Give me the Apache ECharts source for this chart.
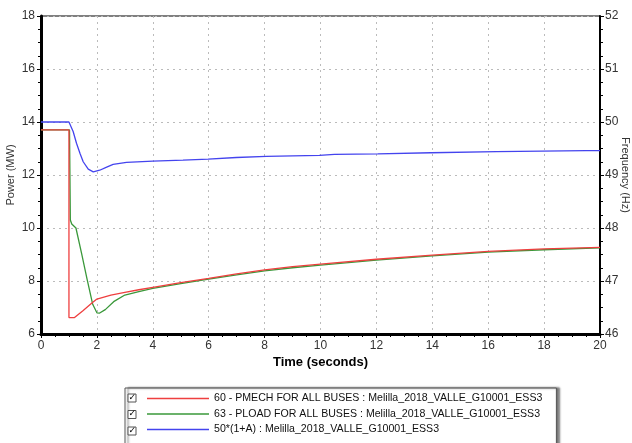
<!DOCTYPE html>
<html>
<head>
<meta charset="utf-8">
<script src="https://cdn.jsdelivr.net/npm/echarts@6/dist/echarts.min.js"></script>
<style>
html,body{margin:0;padding:0;background:#fff;}
#c{width:632px;height:443px;}
</style>
</head>
<body>
<div id="c"></div>
<script>
// Series names
const seriesNames = [
  '60 - PMECH FOR ALL BUSES : Melilla_2018_VALLE_G10001_ESS3',
  '63 - PLOAD FOR ALL BUSES : Melilla_2018_VALLE_G10001_ESS3',
  '50*(1+A) : Melilla_2018_VALLE_G10001_ESS3'
];
// PMECH (MW, left axis)
const timeRed = [0, 1.0, 1.0, 1.2, 1.5, 1.8, 2.0, 2.5, 3.0, 3.5, 4, 5, 6, 7, 8, 9, 10, 12, 14, 16, 18, 20];
const red     = [13.7, 13.7, 6.62, 6.62, 6.88, 7.15, 7.32, 7.47, 7.57, 7.67, 7.76, 7.94, 8.10, 8.27, 8.42, 8.54, 8.64, 8.82, 8.98, 9.12, 9.21, 9.27];
// PLOAD (MW, left axis)
const timeGreen = [0, 1.02, 1.05, 1.1, 1.25, 1.45, 1.65, 1.85, 2.0, 2.1, 2.3, 2.6, 3.0, 3.5, 4, 5, 6, 7, 8, 9, 10, 12, 14, 16, 18, 20];
const green     = [13.7, 13.7, 10.3, 10.15, 10.0, 9.05, 8.06, 7.12, 6.8, 6.79, 6.92, 7.22, 7.47, 7.6, 7.72, 7.9, 8.07, 8.23, 8.38, 8.5, 8.6, 8.79, 8.95, 9.09, 9.18, 9.25];
// Frequency 50*(1+A) (Hz, right axis)
const timeBlue = [0, 1.0, 1.15, 1.27, 1.4, 1.51, 1.69, 1.87, 2.1, 2.35, 2.58, 3.06, 4, 5.08, 5.98, 6.99, 8.06, 9.96, 10.5, 12.05, 13.95, 16.3, 19.5, 20];
const blue     = [50, 50, 49.82, 49.6, 49.4, 49.25, 49.11, 49.06, 49.09, 49.15, 49.2, 49.24, 49.26, 49.28, 49.30, 49.33, 49.35, 49.37, 49.39, 49.40, 49.42, 49.44, 49.46, 49.46];

const colors = ['#ee3f3f', '#3a983a', '#4444ee'];
const zip = (a, b) => a.map((t, i) => [t, b[i]]);

const font = 'Liberation Sans, Arial, sans-serif';
const chart = echarts.init(document.getElementById('c'), null, {renderer: 'canvas'});

const checkGraphics = [];
[0, 1, 2].forEach(i => {
  const y = 394 + i * 16.5;
  checkGraphics.push({type: 'rect', z: 100, zlevel: 1, shape: {x: 128, y: y, width: 8, height: 8}, style: {fill: '#fff', stroke: '#555', lineWidth: 1}});
  checkGraphics.push({type: 'text', z: 101, zlevel: 1, x: 128.5, y: y - 1, style: {text: '\u2713', font: 'bold 9px DejaVu Sans', fill: '#000'}});
});

chart.setOption({
  animation: false,
  backgroundColor: '#fff',
  color: colors,
  grid: {left: 41, right: 32, top: 16, bottom: 109, show: true, borderColor: '#000', borderWidth: 1, backgroundColor: '#fff', containLabel: false, outerBoundsMode: 'none'},
  xAxis: {
    type: 'value', min: 0, max: 20, interval: 2,
    name: 'Time (seconds)', nameLocation: 'middle', nameGap: 22, nameMoveOverlap: false,
    nameTextStyle: {fontFamily: font, fontSize: 13, fontWeight: 'bold', color: '#000'},
    axisLine: {show: true, onZero: false, lineStyle: {color: '#000', width: 3}},
    axisTick: {show: true, length: 4, lineStyle: {color: '#000', width: 1}},
    minorTick: {show: true, splitNumber: 4, length: 3, lineStyle: {color: '#000', width: 1}},
    axisLabel: {fontFamily: font, fontSize: 12, color: '#333', margin: 6},
    splitLine: {show: true, lineStyle: {color: '#bbb', type: [2, 4], width: 1}}
  },
  yAxis: [
    {
      type: 'value', min: 6, max: 18, interval: 2, position: 'left',
      name: 'Power (MW)', nameLocation: 'middle', nameGap: 25, nameMoveOverlap: false,
      nameTextStyle: {fontFamily: font, fontSize: 11, color: '#333'},
      axisLine: {show: true, lineStyle: {color: '#000', width: 3}},
      axisTick: {show: true, length: 4, lineStyle: {color: '#000', width: 1}},
      minorTick: {show: true, splitNumber: 4, length: 3, lineStyle: {color: '#000', width: 1}},
      axisLabel: {fontFamily: font, fontSize: 12, color: '#333', margin: 6},
      splitLine: {show: true, lineStyle: {color: '#bbb', type: [2, 4], width: 1}}
    },
    {
      type: 'value', min: 46, max: 52, interval: 1, position: 'right',
      name: 'Frequency (Hz)', nameLocation: 'middle', nameGap: 20, nameRotate: -90, nameMoveOverlap: false,
      nameTextStyle: {fontFamily: font, fontSize: 11, color: '#333'},
      axisLine: {show: true, lineStyle: {color: '#000', width: 2}},
      axisTick: {show: true, length: 4, lineStyle: {color: '#000', width: 1}},
      minorTick: {show: true, splitNumber: 4, length: 3, lineStyle: {color: '#000', width: 1}},
      axisLabel: {fontFamily: font, fontSize: 12, color: '#333', margin: 5},
      splitLine: {show: false}
    }
  ],
  legend: {
    orient: 'vertical', left: 125, top: 388, height: 80,
    padding: [5, 14, 20, 22],
    itemGap: 4.5, itemWidth: 62, itemHeight: 1.5,
    icon: 'rect',
    selectedMode: false,
    backgroundColor: '#fff', borderColor: '#555', borderWidth: 1,
    shadowColor: 'rgba(0,0,0,0.55)', shadowBlur: 2, shadowOffsetX: 3, shadowOffsetY: 0,
    textStyle: {fontFamily: font, fontSize: 10.6, color: '#111'},
    data: seriesNames
  },
  graphic: checkGraphics,
  series: [
    {name: seriesNames[0], type: 'line', yAxisIndex: 0, data: zip(timeRed, red), showSymbol: false, symbol: 'none', lineStyle: {width: 1.3, color: colors[0]}, z: 4},
    {name: seriesNames[1], type: 'line', yAxisIndex: 0, data: zip(timeGreen, green), showSymbol: false, symbol: 'none', lineStyle: {width: 1.3, color: colors[1]}, z: 3},
    {name: seriesNames[2], type: 'line', yAxisIndex: 1, data: zip(timeBlue, blue), showSymbol: false, symbol: 'none', lineStyle: {width: 1.3, color: colors[2]}, z: 3}
  ]
});
</script>
</body>
</html>
